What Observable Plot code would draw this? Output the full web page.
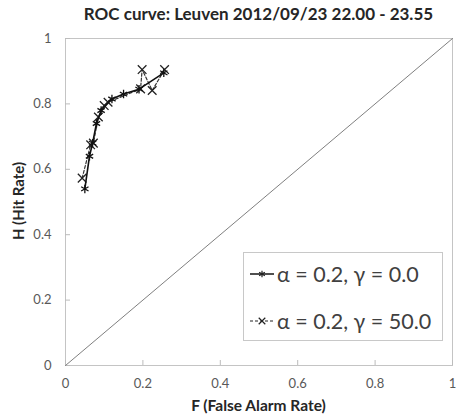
<!DOCTYPE html>
<html>
<head>
<meta charset="utf-8">
<script src="https://cdn.jsdelivr.net/npm/d3@7"></script>
<script src="https://cdn.jsdelivr.net/npm/@observablehq/plot@0.6"></script>
<style>
  body { margin: 0; background: #fff; }
  #wrap { position: relative; width: 456px; height: 416px; font-family: Lato, "Open Sans", sans-serif; }
  #title { position: absolute; left: 65px; width: 387px; top: 3px; text-align: center; font-weight: bold; font-size: 17px; color: #262626; white-space: nowrap; }
  #chart { position: absolute; left: 0; top: 26px; }
  #xlabel { position: absolute; left: 65px; width: 387px; top: 396px; text-align: center; font-weight: bold; font-size: 15.5px; color: #262626; }
  #ylabel { position: absolute; left: 18px; top: 201px; transform: translate(-50%, -50%) rotate(-90deg); white-space: nowrap; font-weight: bold; font-size: 15px; color: #262626; }
  #legend { position: absolute; left: 243px; top: 252px; width: 198px; height: 87px; border: 1px solid #c8c8c8; background: #fff; }
  .item { position: absolute; left: 5px; height: 26px; display: flex; align-items: center; font-size: 21.5px; color: #404040; white-space: nowrap; }
  .item svg { margin-right: 2px; }
</style>
</head>
<body>
<div id="wrap">
  <div id="title">ROC curve: Leuven 2012/09/23 22.00 - 23.55</div>
  <div id="chart"></div>
  <div id="xlabel">F (False Alarm Rate)</div>
  <div id="ylabel">H (Hit Rate)</div>
  <div id="legend"></div>
</div>
<script>
// Series: alpha = 0.2, gamma = 0.0 (solid, star marker)
const seriesA_F = [0.050, 0.062, 0.070, 0.080, 0.092, 0.120, 0.150, 0.190, 0.254];
const seriesA_H = [0.540, 0.640, 0.680, 0.740, 0.780, 0.815, 0.830, 0.845, 0.895];
// Series: alpha = 0.2, gamma = 50.0 (dashed, x marker)
const seriesB_F = [0.043, 0.065, 0.072, 0.085, 0.100, 0.110, 0.194, 0.198, 0.224, 0.256];
const seriesB_H = [0.573, 0.675, 0.680, 0.760, 0.795, 0.805, 0.846, 0.905, 0.841, 0.905];
// Diagonal reference
const diagF = [0, 1];
const diagH = [0, 1];
// Ticks
const xTicks = [0, 0.2, 0.4, 0.6, 0.8, 1];
const yTicks = [0, 0.2, 0.4, 0.6, 0.8, 1];
const seriesNames = ["α = 0.2, γ = 0.0", "α = 0.2, γ = 50.0"];

const A = seriesA_F.map((f, i) => ({F: f, H: seriesA_H[i]}));
const B = seriesB_F.map((f, i) => ({F: f, H: seriesB_H[i]}));
const D = diagF.map((f, i) => ({F: f, H: diagH[i]}));

const W = 456, Hh = 390, mL = 65, mR = 4, mT = 12, mB = 51;
const innerW = W - mL - mR, innerH = Hh - mT - mB;
const fmt = d => d === 0 || d === 1 ? String(d) : d3.format(".1f")(d);

const chart = Plot.plot({
  width: W, height: Hh,
  marginLeft: mL, marginRight: mR, marginTop: mT, marginBottom: mB,
  x: {domain: [0, 1]},
  y: {domain: [0, 1]},
  style: {fontFamily: "Lato, 'Open Sans', sans-serif", fontSize: "13px", color: "#595959", background: "#fff"},
  marks: [
    Plot.frame({stroke: "#c4c4c4"}),
    Plot.tickX(xTicks, {x: d => d, insetTop: innerH - 5, stroke: "#bcbcbc"}),
    Plot.tickY(yTicks, {y: d => d, insetRight: innerW - 5, stroke: "#bcbcbc"}),
    Plot.axisX(xTicks, {tickSize: 0, tickPadding: 13, tickFormat: fmt, label: null, fontSize: 13}),
    Plot.axisY(yTicks, {tickSize: 0, tickPadding: 14, tickFormat: fmt, label: null, fontSize: 13}),
    Plot.line(D, {x: "F", y: "H", stroke: "#7f7f7f", strokeWidth: 1}),
    Plot.line(B, {x: "F", y: "H", stroke: "#333", strokeWidth: 1.2, strokeDasharray: "3,2"}),
    Plot.dot(B, {x: "F", y: "H", symbol: "times", r: 4, stroke: "#222", strokeWidth: 1.3}),
    Plot.line(A, {x: "F", y: "H", stroke: "#111", strokeWidth: 1.6}),
    Plot.dot(A, {x: "F", y: "H", symbol: "asterisk", r: 4, stroke: "#111", strokeWidth: 1.3})
  ]
});
document.getElementById("chart").appendChild(chart);

// Legend
const legend = document.getElementById("legend");
const tops = [8, 55];
const dashes = [null, "3,2"];
const syms = ["asterisk", "times"];
seriesNames.forEach((name, i) => {
  const item = document.createElement("div");
  item.className = "item";
  item.style.top = tops[i] + "px";
  const s = d3.create("svg").attr("width", 26).attr("height", 12);
  s.append("line").attr("x1", 1).attr("x2", 25).attr("y1", 6).attr("y2", 6)
    .attr("stroke", "#222").attr("stroke-width", i === 0 ? 1.6 : 1.2)
    .attr("stroke-dasharray", dashes[i]);
  const symType = syms[i] === "asterisk" ? d3.symbolAsterisk : d3.symbolTimes;
  s.append("path").attr("d", d3.symbol(symType, 30)()).attr("transform", "translate(13,6)")
    .attr("fill", "none").attr("stroke", "#222").attr("stroke-width", 1.2);
  item.appendChild(s.node());
  const t = document.createElement("span");
  t.textContent = name;
  item.appendChild(t);
  legend.appendChild(item);
});
</script>
</body>
</html>
